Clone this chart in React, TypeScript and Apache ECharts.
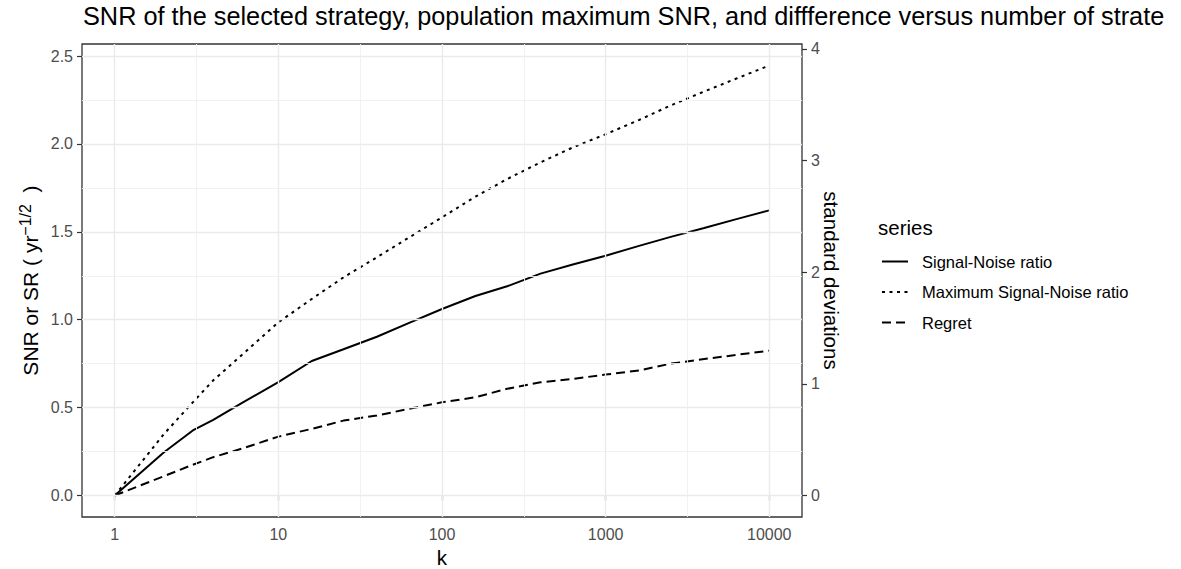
import React, { useEffect, useRef } from "react";
import * as echarts from "echarts";

const FONT = "Liberation Sans, Arial, Helvetica, sans-serif";

const kValues = [1, 2, 3, 4, 6, 10, 16, 25, 40, 63, 100, 160, 250, 400, 630, 1000, 1600, 2500, 4000, 6300, 10000];
const snrValues = [0, 0.246, 0.37, 0.43, 0.527, 0.645, 0.765, 0.832, 0.903, 0.982, 1.061, 1.135, 1.19, 1.262, 1.314, 1.364, 1.42, 1.471, 1.522, 1.572, 1.622];
const maxSnrValues = [0, 0.35, 0.53, 0.655, 0.8, 0.985, 1.118, 1.241, 1.355, 1.468, 1.582, 1.7, 1.8, 1.895, 1.98, 2.055, 2.136, 2.219, 2.298, 2.372, 2.446];
const regretValues = [0, 0.11, 0.175, 0.218, 0.267, 0.335, 0.379, 0.426, 0.455, 0.493, 0.53, 0.559, 0.607, 0.644, 0.663, 0.688, 0.711, 0.75, 0.776, 0.8, 0.824];

const seriesNames = ["Signal-Noise ratio", "Maximum Signal-Noise ratio", "Regret"];
const xTicks = [1, 10, 100, 1000, 10000];
const xMinorGrid = [3.1623, 31.623, 316.23, 3162.3];
const yTicks = [0, 0.5, 1.0, 1.5, 2.0, 2.5];
const yMinorGrid = [0.25, 0.75, 1.25, 1.75, 2.25];
const sdTicks = [0, 1, 2, 3, 4];
const sdPerSnr = 0.635;

const TITLE = "SNR of the selected strategy, population maximum SNR, and diffference versus number of strate";

export default function App() {
  const ref = useRef<HTMLDivElement>(null);
  useEffect(() => {
    if (!ref.current) return;
    const chart = echarts.init(ref.current, null, { renderer: "svg" });
    const yMin = -0.1223;
    const yMax = 2.5683;
    const pairs = (vals: number[]) => kValues.map((k, i) => [k, vals[i]]);
    const tickLabel = { color: "#4d4d4d", fontSize: 16, fontFamily: FONT };
    const tick = { show: true, length: 5, lineStyle: { color: "#333333", width: 1.2 } };
    const gridMajor = { color: "#ebebeb", width: 1.4, type: "solid" };
    const gridMinor = { color: "#f0f0f0", width: 0.9, type: "solid" };
    const lineBase = { type: "line", showSymbol: false, symbol: "none", xAxisIndex: 0, yAxisIndex: 0, z: 3 };

    chart.setOption({
      animation: false,
      backgroundColor: "#ffffff",
      textStyle: { fontFamily: FONT },
      title: [
        { text: TITLE, left: 83, top: 3, padding: 0, textStyle: { fontSize: 25.3, fontWeight: "normal", color: "#000", fontFamily: FONT } },
        { text: "series", left: 878, top: 217, padding: 0, textStyle: { fontSize: 20.5, fontWeight: "normal", color: "#000", fontFamily: FONT } },
      ],
      legend: {
        orient: "vertical",
        left: 881,
        top: 253,
        padding: 0,
        itemWidth: 26,
        itemHeight: 20,
        itemGap: 13.5,
        data: seriesNames,
        itemStyle: { opacity: 0 },
        textStyle: { fontSize: 16.5, color: "#000", fontFamily: FONT, padding: [0, 0, 0, 9] },
      },
      grid: {
        left: 82, right: 379, top: 44, bottom: 52,
        containLabel: false,
        outerBoundsMode: "none",
        show: true, borderColor: "#333333", borderWidth: 1.3, backgroundColor: "transparent",
      },
      xAxis: {
        type: "log",
        logBase: 10,
        min: Math.pow(10, -0.2),
        max: Math.pow(10, 4.2),
        name: "k",
        nameLocation: "middle",
        nameGap: 30,
        nameMoveOverlap: false,
        nameTextStyle: { fontSize: 20.6, color: "#000", fontFamily: FONT },
        axisLine: { show: false },
        axisTick: { ...tick, customValues: xTicks },
        axisLabel: { ...tickLabel, margin: 9, customValues: xTicks, formatter: (v: number) => String(Math.round(v)) },
        splitLine: { show: false },
      },
      yAxis: [
        {
          type: "value",
          min: yMin,
          max: yMax,
          name: "{a|SNR or SR ( yr}{s|−1/2}{a|  )}",
          nameLocation: "middle",
          nameGap: 39,
          nameMoveOverlap: false,
          nameTextStyle: {
            color: "#000",
            fontFamily: FONT,
            rich: {
              a: { fontSize: 21, lineHeight: 26, color: "#000", fontFamily: FONT },
              s: { fontSize: 16, lineHeight: 15, verticalAlign: "top", color: "#000", fontFamily: FONT },
            },
          },
          axisLine: { show: false },
          axisTick: { ...tick, customValues: yTicks },
          axisLabel: { ...tickLabel, margin: 9, customValues: yTicks, formatter: (v: number) => v.toFixed(1) },
          splitLine: { show: false },
        },
        {
          type: "value",
          position: "right",
          min: yMin / sdPerSnr,
          max: yMax / sdPerSnr,
          name: "standard deviations",
          nameLocation: "middle",
          nameRotate: -90,
          nameGap: 19,
          nameMoveOverlap: false,
          nameTextStyle: { fontSize: 20.6, color: "#000", fontFamily: FONT },
          axisLine: { show: false },
          axisTick: { ...tick, customValues: sdTicks },
          axisLabel: { ...tickLabel, margin: 9, customValues: sdTicks, formatter: (v: number) => String(Math.round(v)) },
          splitLine: { show: false },
        },
      ],
      series: [
        {
          type: "line",
          name: "grid",
          data: [],
          z: 1,
          silent: true,
          markLine: {
            silent: true,
            symbol: ["none", "none"],
            label: { show: false },
            emphasis: { disabled: true },
            data: [
              ...xMinorGrid.map((v) => ({ xAxis: v, lineStyle: gridMinor })),
              ...yMinorGrid.map((v) => ({ yAxis: v, lineStyle: gridMinor })),
              ...xTicks.map((v) => ({ xAxis: v, lineStyle: gridMajor })),
              ...yTicks.map((v) => ({ yAxis: v, lineStyle: gridMajor })),
            ],
          },
        },
        { ...lineBase, name: seriesNames[0], data: pairs(snrValues), lineStyle: { color: "#000", width: 2, type: "solid" }, itemStyle: { color: "#000" } },
        { ...lineBase, name: seriesNames[1], data: pairs(maxSnrValues), lineStyle: { color: "#000", width: 2, type: [3, 4.5] }, itemStyle: { color: "#000" } },
        { ...lineBase, name: seriesNames[2], data: pairs(regretValues), lineStyle: { color: "#000", width: 2, type: [9, 5] }, itemStyle: { color: "#000" } },
      ],
    });
    return () => chart.dispose();
  }, []);
  return <div ref={ref} style={{ position: "absolute", left: 0, top: 0, width: 1181, height: 569 }} />;
}
